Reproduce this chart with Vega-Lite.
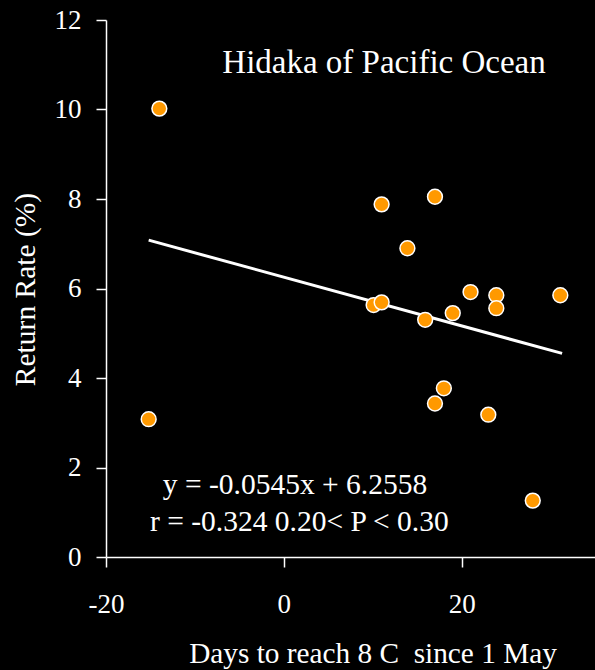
{
  "$schema": "https://vega.github.io/schema/vega-lite/v6.json",
  "width": 489,
  "height": 537,
  "autosize": "none",
  "padding": {"left": 106, "top": 20, "right": 0, "bottom": 113},
  "background": "black",
  "config": {
    "view": {"stroke": null},
    "axis": {"grid": false, "domainColor": "white", "tickColor": "white", "labelColor": "white", "titleColor": "white", "domainWidth": 1.5, "tickWidth": 1.5, "tickSize": 10, "labelFont": "Liberation Serif", "titleFont": "Liberation Serif", "labelFontSize": 27, "titleFontWeight": "normal"}
  },
  "datasets": {
    "pts": [
      {"days": -14, "rate": 10.02},
      {"days": -15.2, "rate": 3.08},
      {"days": 11, "rate": 7.88},
      {"days": 17, "rate": 8.05},
      {"days": 13.9, "rate": 6.9},
      {"days": 21, "rate": 5.92},
      {"days": 23.9, "rate": 5.85},
      {"days": 31.1, "rate": 5.85},
      {"days": 10.1, "rate": 5.63},
      {"days": 11, "rate": 5.69},
      {"days": 15.9, "rate": 5.3},
      {"days": 19, "rate": 5.45},
      {"days": 23.9, "rate": 5.56},
      {"days": 18, "rate": 3.77},
      {"days": 17, "rate": 3.43},
      {"days": 23, "rate": 3.18},
      {"days": 28, "rate": 1.26}
    ],
    "fit": [
      {"days": -15.2, "rate": 7.08},
      {"days": 31.3, "rate": 4.55}
    ],
    "t1": [{"days": 11.27, "rate": 10.82, "text": "Hidaka of Pacific Ocean"}],
    "t2": [
      {"days": 1.26, "rate": 1.41, "text": "y = -0.0545x + 6.2558"},
      {"days": 1.75, "rate": 0.59, "text": "r = -0.324 0.20< P < 0.30"}
    ]
  },
  "layer": [
    {
      "data": {"name": "fit"},
      "mark": {"type": "line", "color": "white", "strokeWidth": 3},
      "encoding": {
        "x": {"field": "days", "type": "quantitative", "scale": {"domain": [-20, 35], "nice": false, "zero": false},
          "axis": {"values": [-20, 0, 20], "labelExpr": "'' + datum.value", "title": "Days to reach 8 C\u00a0 since 1 May", "titleFontSize": 29.3, "labelPadding": 37, "labelBaseline": "middle", "titleX": 266.5, "titleY": 105, "titleBaseline": "alphabetic", "labelFlush": false}},
        "y": {"field": "rate", "type": "quantitative", "scale": {"domain": [0, 12], "nice": false},
          "axis": {"values": [0, 2, 4, 6, 8, 10, 12], "title": "Return Rate (%)", "titleFontSize": 29.5, "labelPadding": 15, "titleX": -72, "titleY": 269, "titleAngle": -90, "titleAlign": "center", "titleBaseline": "alphabetic"}}
      }
    },
    {
      "data": {"name": "pts"},
      "mark": {"type": "point", "shape": "circle", "filled": true, "fill": "#FF9900", "stroke": "white", "strokeWidth": 1.5, "opacity": 1, "size": 220},
      "encoding": {
        "x": {"field": "days", "type": "quantitative"},
        "y": {"field": "rate", "type": "quantitative"}
      }
    },
    {
      "data": {"name": "t1"},
      "mark": {"type": "text", "color": "white", "align": "center", "baseline": "alphabetic", "fontSize": 33, "font": "Liberation Serif"},
      "encoding": {
        "x": {"field": "days", "type": "quantitative"},
        "y": {"field": "rate", "type": "quantitative"},
        "text": {"field": "text"}
      }
    },
    {
      "data": {"name": "t2"},
      "mark": {"type": "text", "color": "white", "align": "center", "baseline": "alphabetic", "fontSize": 29.5, "font": "Liberation Serif"},
      "encoding": {
        "x": {"field": "days", "type": "quantitative"},
        "y": {"field": "rate", "type": "quantitative"},
        "text": {"field": "text"}
      }
    }
  ]
}
